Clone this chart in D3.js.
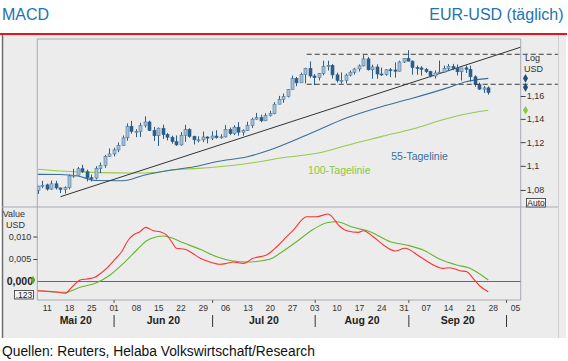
<!DOCTYPE html>
<html>
<head>
<meta charset="utf-8">
<script src="https://cdn.jsdelivr.net/npm/d3@7"></script>
<style>
  body { margin: 0; background: #fff; }
  svg { display: block; font-family: Arial, "Liberation Sans", sans-serif; }
</style>
</head>
<body>
<svg id="chart" width="568" height="361"></svg>
<script>
// Daily candles, first = 07 May 2020, one entry per trading day (Mon-Fri)
const opens = [1.0795,1.0832,1.0842,1.0807,1.0851,1.0817,1.0804,1.0819,1.0916,1.0922,1.0976,1.0951,1.0901,1.0898,1.0977,1.1004,1.1079,
  1.1100,1.1134,1.1172,1.1237,1.1336,1.1292,1.1292,1.1342,1.1373,1.1300,1.1255,1.1319,1.1264,1.1242,1.1204,1.1177,1.1259,1.1307,1.1250,1.1220,1.1220,1.1244,
  1.1234,1.1252,1.1240,1.1245,1.1309,1.1273,1.1328,1.1285,1.1300,1.1342,1.1397,1.1411,1.1383,1.1428,1.1446,1.1528,1.1569,1.1595,1.1656,1.1755,1.1717,1.1790,1.1845,
  1.1778,1.1763,1.1800,1.1863,1.1874,1.1788,1.1738,1.1738,1.1786,1.1812,1.1841,1.1869,1.1932,1.1834,1.1859,1.1796,1.1792,1.1834,1.1832,1.1821,1.1904,
  1.1936,1.1912,1.1853,1.1850,1.1837,1.1818,1.1778,1.1805,1.1813,1.1846,1.1864,1.1846,1.1816,1.1851,1.1838,1.1771,1.1701,1.1661,1.1672];
const highs = [1.0835,1.0875,1.0852,1.0877,1.0875,1.0818,1.0830,1.0926,1.0975,1.0990,1.1008,1.0968,1.0927,1.0997,1.1028,1.1092,1.1147,
  1.1153,1.1198,1.1257,1.1361,1.1383,1.1311,1.1367,1.1422,1.1384,1.1330,1.1326,1.1350,1.1278,1.1255,1.1257,1.1287,1.1349,1.1319,1.1255,1.1250,1.1290,1.1250,
  1.1293,1.1302,1.1268,1.1346,1.1325,1.1345,1.1372,1.1310,1.1375,1.1410,1.1452,1.1437,1.1450,1.1470,1.1546,1.1601,1.1622,1.1659,1.1781,1.1769,1.1808,1.1852,1.1909,
  1.1795,1.1805,1.1916,1.1916,1.1885,1.1808,1.1810,1.1800,1.1828,1.1851,1.1882,1.1966,1.1950,1.1880,1.1883,1.1853,1.1838,1.1850,1.1900,1.1916,1.1938,
  1.2011,1.1917,1.1872,1.1867,1.1850,1.1825,1.1829,1.1917,1.1872,1.1885,1.1887,1.1882,1.1836,1.1873,1.1872,1.1784,1.1718,1.1688,1.1685];
const lows = [1.0767,1.0815,1.0795,1.0800,1.0804,1.0775,1.0771,1.0805,1.0901,1.0918,1.0941,1.0871,1.0870,1.0886,1.0939,1.0983,1.1075,
  1.1079,1.1115,1.1168,1.1212,1.1273,1.1242,1.1244,1.1325,1.1295,1.1210,1.1168,1.1227,1.1215,1.1187,1.1168,1.1170,1.1202,1.1237,1.1180,1.1198,1.1200,1.1190,
  1.1218,1.1230,1.1230,1.1240,1.1260,1.1260,1.1255,1.1255,1.1295,1.1322,1.1392,1.1371,1.1382,1.1420,1.1439,1.1528,1.1540,1.1587,1.1654,1.1687,1.1717,1.1711,1.1762,
  1.1696,1.1738,1.1785,1.1827,1.1755,1.1720,1.1711,1.1712,1.1774,1.1791,1.1818,1.1864,1.1826,1.1753,1.1753,1.1780,1.1780,1.1768,1.1763,1.1818,1.1895,
  1.1910,1.1789,1.1789,1.1781,1.1804,1.1765,1.1755,1.1802,1.1810,1.1822,1.1830,1.1783,1.1737,1.1805,1.1730,1.1682,1.1654,1.1627,1.1612];
const closes = [1.0832,1.0839,1.0807,1.0851,1.0817,1.0804,1.0819,1.0916,1.0922,1.0976,1.0951,1.0901,1.0898,1.0977,1.1004,1.1079,1.1100,
  1.1134,1.1172,1.1237,1.1336,1.1292,1.1292,1.1342,1.1373,1.1300,1.1255,1.1319,1.1264,1.1242,1.1204,1.1177,1.1259,1.1307,1.1250,1.1220,1.1220,1.1244,1.1234,
  1.1252,1.1240,1.1245,1.1309,1.1273,1.1328,1.1285,1.1300,1.1342,1.1397,1.1411,1.1383,1.1428,1.1446,1.1528,1.1569,1.1595,1.1656,1.1755,1.1717,1.1790,1.1845,1.1778,
  1.1763,1.1800,1.1863,1.1874,1.1788,1.1738,1.1738,1.1786,1.1812,1.1841,1.1869,1.1932,1.1834,1.1859,1.1796,1.1792,1.1834,1.1832,1.1821,1.1904,1.1936,
  1.1912,1.1853,1.1850,1.1837,1.1818,1.1778,1.1805,1.1813,1.1846,1.1864,1.1846,1.1816,1.1851,1.1838,1.1771,1.1701,1.1661,1.1672,1.1631];

// Moving averages: [day index, value]
const ma55 = [[0,1.0929],[5,1.0928],[9,1.0915],[13,1.0878],[19,1.0876],[24,1.0924],[30,1.0965],[36,1.0999],[40,1.1035],[47,1.1077],
  [52,1.1133],[54,1.1161],[62,1.1289],[69,1.1405],[77,1.1506],[84,1.1580],[92,1.1674],[96,1.1727],[101,1.1757]];
const ma100 = [[0,1.0971],[5,1.0957],[14,1.0943],[21,1.0940],[27,1.0947],[30,1.0966],[36,1.0979],[43,1.1001],[51,1.1043],[54,1.1063],
  [64,1.1116],[69,1.1170],[77,1.1247],[84,1.1313],[92,1.1405],[96,1.1442],[101,1.1475]];

// Trend line and channel: [day index, value]
const trendLine = [[5.1,1.0745],[108.2,1.2038]];
const channelTop = [[60.3,1.1974],[116.6,1.1974]];
const channelBottom = [[60.3,1.1704],[116.6,1.1704]];

// MACD (red) and signal (green): [day index, value]
const macd = [[0,-0.00204],[4.2,-0.00233],[6.1,-0.00262],[7.6,-0.00129],[9.5,0.00033],[11,0.00056],[12.8,0.00093],[13.9,0.00167],
  [15.4,0.00293],[17.3,0.00493],[18.8,0.00662],[20.3,0.00922],[21.4,0.01033],[22.9,0.01107],[24.2,0.01204],[25.9,0.01129],[27.4,0.01107],
  [28.9,0.01033],[30,0.00884],[31.1,0.00738],[33,0.00716],[34.5,0.0064],[36.4,0.00516],[38.6,0.00433],[40.9,0.00382],[42.4,0.00404],
  [43.8,0.00433],[46.1,0.00404],[48.3,0.00516],[51.3,0.00589],[53.6,0.00773],[55.8,0.00996],[57.3,0.01144],[60.3,0.0144],[62.5,0.0144],
  [65.1,0.0150],[67.8,0.01218],[69.3,0.01129],[71.9,0.01093],[73,0.01129],[75.2,0.00996],[77.5,0.00811],[80.1,0.00678],[82.3,0.00738],
  [85.7,0.00551],[88.7,0.00367],[90.9,0.00293],[92.4,0.00307],[94.7,0.0024],[96.2,0.00218],[97.6,0.00071],[99.1,-0.001],[101,-0.00227]];
const signal = [[0,-0.00204],[6.1,-0.0024],[9.5,-0.00129],[13.2,-0.00027],[16.2,0.00144],[19.2,0.00404],[22.2,0.0070],[24.4,0.00907],
  [26.7,0.00996],[28.1,0.01011],[29.6,0.00982],[32.6,0.00862],[36.4,0.00716],[40.1,0.00551],[43.8,0.00456],[46.8,0.00433],[49.8,0.00456],
  [52.8,0.00529],[54.3,0.00627],[58,0.00884],[61.8,0.0116],[64.8,0.01307],[67,0.01329],[70.7,0.01204],[74.5,0.01107],[79,0.00884],
  [82.7,0.00811],[86.4,0.0070],[90.2,0.00493],[93.9,0.00367],[96.9,0.00293],[99.1,0.00167],[101,0.00033]];

// Axis labels
const priceTicks = [1.08, 1.1, 1.12, 1.14, 1.16];
const macdTicks = [0.005, 0.010];
const weekIdx = d3.range(2, 108, 5);
const weekLabels = ["11","18","25","01","08","15","22","29","06","13","20","27","03","10","17","24","31","07","14","21","28","05"];
const monthBreaks = [17.1, 39.2, 62.2, 83.2, 105.1];
const monthLabels = ["Mai 20","Jun 20","Jul 20","Aug 20","Sep 20"];
const sideMarkers = [[1.1757,"#1d4f7a"],[1.1677,"#1d4f7a"],[1.1475,"#8cc63f"]];

const svg = d3.select("#chart");
const box = { left: 37.3, right: 520.7, top: 39, mid: 207, bottom: 300 };
const de = d3.formatLocale({ decimal: ",", thousands: ".", grouping: [3], currency: ["", "€"] });

const x = d3.scaleLinear().domain([0, 107]).range([37.8, 515]);
const yP = d3.scaleLog().domain([1.0661, 1.2114]).range([box.mid, box.top]);
const yM = d3.scaleLinear().domain([-0.00411, 0.01656]).range([box.bottom, box.mid]);

// title and source
svg.append("text").attr("x", 2).attr("y", 20).attr("font-size", 16).attr("fill", "#2473b3").text("MACD");
svg.append("text").attr("x", 563.5).attr("y", 20).attr("font-size", 16).attr("fill", "#2473b3")
  .attr("text-anchor", "end").text("EUR-USD (täglich)");
svg.append("text").attr("x", 2).attr("y", 356).attr("font-size", 13.8).attr("fill", "#111")
  .text("Quellen: Reuters, Helaba Volkswirtschaft/Research");

// grey panel
svg.append("rect").attr("x", 2).attr("y", 35).attr("width", 564).attr("height", 303).attr("fill", "#ececec");
svg.append("rect").attr("x", 0).attr("y", 33).attr("width", 567).attr("height", 2).attr("fill", "#e8141c");
svg.append("line").attr("x1", 2.5).attr("x2", 2.5).attr("y1", 35).attr("y2", 338).attr("stroke", "#6e6e6e").attr("stroke-width", 1.5);
svg.append("line").attr("x1", 558.5).attr("x2", 558.5).attr("y1", 35).attr("y2", 338).attr("stroke", "#d0d0d4");

// frames
const frame = svg.append("g").attr("stroke", "#a9a9b6").attr("fill", "none");
frame.append("path").attr("d", `M${box.left},${box.bottom}V${box.top}H${box.right}V${box.bottom}Z`);
frame.append("line").attr("x1", 2).attr("x2", 558).attr("y1", box.mid).attr("y2", box.mid);

svg.append("clipPath").attr("id", "clipTop").append("rect")
  .attr("x", box.left).attr("y", box.top).attr("width", box.right - box.left).attr("height", box.mid - box.top);

const upper = svg.append("g").attr("clip-path", "url(#clipTop)");
const lineP = d3.line().x(d => x(d[0])).y(d => yP(d[1]));

// moving averages
upper.append("path").datum(ma100).attr("fill", "none").attr("stroke", "#95c94a").attr("stroke-width", 1.1)
  .attr("d", lineP.curve(d3.curveMonotoneX));
upper.append("path").datum(ma55).attr("fill", "none").attr("stroke", "#3b6f99").attr("stroke-width", 1.1)
  .attr("d", lineP.curve(d3.curveMonotoneX));
lineP.curve(d3.curveLinear);
upper.append("path").datum(trendLine).attr("fill", "none").attr("stroke", "#333").attr("stroke-width", 1).attr("d", lineP);

// candles
const candles = d3.range(opens.length).map(i => ({ i, o: opens[i], h: highs[i], l: lows[i], c: closes[i] }));
const cg = upper.selectAll("g.candle").data(candles).enter().append("g").attr("class", "candle");
cg.append("line")
  .attr("x1", d => Math.round(x(d.i)) + 0.5).attr("x2", d => Math.round(x(d.i)) + 0.5)
  .attr("y1", d => yP(d.h)).attr("y2", d => yP(d.l))
  .attr("stroke", "#2c5d88").attr("stroke-width", 1);
cg.append("rect")
  .attr("x", d => Math.round(x(d.i)) - 1)
  .attr("y", d => yP(Math.max(d.o, d.c)))
  .attr("width", 3)
  .attr("height", d => Math.max(1, Math.abs(yP(d.o) - yP(d.c))))
  .attr("fill", d => d.c >= d.o ? "#a6bfd4" : "#2b5e8b")
  .attr("stroke", d => d.c >= d.o ? "#4a78a0" : "#2b5e8b")
  .attr("stroke-width", 0.6);

// channel lines run past the right axis
const chan = svg.append("g").attr("fill", "none").attr("stroke", "#3a3a3a").attr("stroke-dasharray", "5,3");
chan.append("path").datum(channelTop).attr("d", lineP);
chan.append("path").datum(channelBottom).attr("d", lineP);

// line labels
svg.append("text").attr("x", x(85.6)).attr("y", yP(1.1049)).attr("text-anchor", "middle")
  .attr("font-size", 10.5).attr("fill", "#3b6f99").text("55-Tagelinie");
svg.append("text").attr("x", x(67.6)).attr("y", yP(1.0928)).attr("text-anchor", "middle")
  .attr("font-size", 10.5).attr("fill", "#8cc63f").text("100-Tagelinie");

// right price axis
const rAxis = svg.append("g").attr("transform", `translate(${box.right},0)`)
  .call(d3.axisRight(yP).tickValues(priceTicks).tickSize(5).tickPadding(1).tickFormat(de.format(".2~f")));
rAxis.select(".domain").remove();
rAxis.selectAll("line").attr("stroke", "#444");
rAxis.selectAll("text").attr("font-size", 9).attr("fill", "#333").attr("font-family", null);
svg.append("text").attr("x", 525).attr("y", 60.5).attr("font-size", 9).attr("fill", "#333").text("Log");
svg.append("text").attr("x", 524).attr("y", 71.5).attr("font-size", 9).attr("fill", "#333").text("USD");
svg.selectAll("path.marker").data(sideMarkers).enter().append("path").attr("class", "marker")
  .attr("d", d3.symbol(d3.symbolDiamond, 22))
  .attr("transform", d => `translate(525.5,${yP(d[0])})`)
  .attr("fill", d => d[1]);
svg.append("rect").attr("x", 526.5).attr("y", 198.5).attr("width", 19).attr("height", 8.5)
  .attr("fill", "#f4f4f4").attr("stroke", "#333").attr("stroke-width", 0.8);
svg.append("text").attr("x", 536).attr("y", 205.6).attr("text-anchor", "middle").attr("font-size", 8.5).attr("fill", "#222").text("Auto");

// MACD panel
svg.append("clipPath").attr("id", "clipLow").append("rect")
  .attr("x", box.left).attr("y", box.mid).attr("width", box.right - box.left).attr("height", box.bottom - box.mid);
const lower = svg.append("g").attr("clip-path", "url(#clipLow)");
lower.append("line").attr("x1", box.left).attr("x2", box.right).attr("y1", yM(0)).attr("y2", yM(0))
  .attr("stroke", "#ff2a2a").attr("stroke-width", 1.2);
const lineM = d3.line().x(d => x(d[0])).y(d => yM(d[1])).curve(d3.curveMonotoneX);
lower.append("path").datum(signal).attr("fill", "none").attr("stroke", "#67b52f").attr("stroke-width", 1.1).attr("d", lineM);
lower.append("path").datum(macd).attr("fill", "none").attr("stroke", "#ff3030").attr("stroke-width", 1.1).attr("d", lineM);

const lAxis = svg.append("g").attr("transform", `translate(${box.left},0)`)
  .call(d3.axisLeft(yM).tickValues(macdTicks).tickSize(4).tickPadding(2).tickFormat(de.format(".3f")));
lAxis.select(".domain").remove();
lAxis.selectAll("line").attr("stroke", "#444");
lAxis.selectAll("text").attr("font-size", 9).attr("fill", "#333").attr("font-family", null);
svg.append("text").attr("x", 33).attr("y", yM(0) + 3.5).attr("text-anchor", "end")
  .attr("font-size", 10.5).attr("font-weight", "bold").attr("fill", "#222").text(de.format(".3f")(0));
svg.append("path").attr("d", d3.symbol(d3.symbolDiamond, 20)).attr("transform", `translate(33,${yM(0) - 1.5})`).attr("fill", "#5aa832");
svg.append("text").attr("x", 25).attr("y", 216.5).attr("text-anchor", "end").attr("font-size", 9).attr("fill", "#333").text("Value");
svg.append("text").attr("x", 25).attr("y", 228.3).attr("text-anchor", "end").attr("font-size", 9).attr("fill", "#333").text("USD");
svg.append("rect").attr("x", 14.5).attr("y", 290.5).attr("width", 19).attr("height", 8.5)
  .attr("fill", "#f4f4f4").attr("stroke", "#333").attr("stroke-width", 0.8);
svg.append("text").attr("x", 24).attr("y", 297.6).attr("text-anchor", "middle").attr("font-size", 8.5).attr("fill", "#222").text(".123");

// date axis
const bAxis = svg.append("g").attr("transform", `translate(0,${box.bottom})`)
  .call(d3.axisBottom(x).tickValues(weekIdx).tickSize(0).tickPadding(5).tickFormat((d, i) => weekLabels[i]));
bAxis.select(".domain").remove();
bAxis.selectAll("text").attr("font-size", 8.5).attr("fill", "#333").attr("font-family", null);

svg.selectAll("line.mtick").data(monthBreaks).enter().append("line").attr("class", "mtick")
  .attr("x1", d => x(d)).attr("x2", d => x(d)).attr("y1", box.bottom).attr("y2", box.bottom + 3)
  .attr("stroke", "#555");
svg.selectAll("line.msep").data(monthBreaks).enter().append("line").attr("class", "msep")
  .attr("x1", d => x(d)).attr("x2", d => x(d)).attr("y1", 315).attr("y2", 327)
  .attr("stroke", "#333");
const edges = [x.invert(box.left)].concat(monthBreaks);
svg.selectAll("text.month").data(monthLabels).enter().append("text").attr("class", "month")
  .attr("x", (d, i) => (x(edges[i]) + x(edges[i + 1])) / 2).attr("y", 324)
  .attr("text-anchor", "middle").attr("font-size", 10.5).attr("font-weight", "bold").attr("fill", "#222")
  .text(d => d);
</script>
</body>
</html>
